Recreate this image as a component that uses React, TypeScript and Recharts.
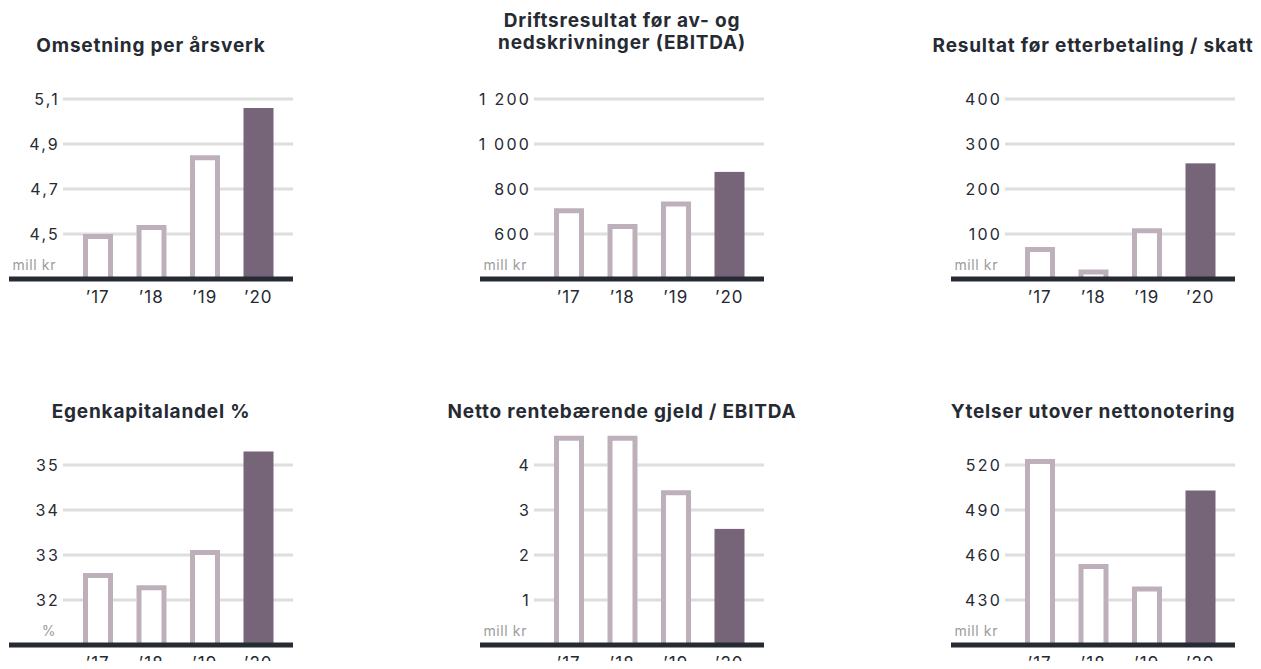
import React from "react";
import { BarChart, Bar, XAxis, YAxis, CartesianGrid, ReferenceLine } from "recharts";

// ---------- data ----------
const years = ["’17", "’18", "’19", "’20"];

const omsetningValues = [4.5, 4.54, 4.85, 5.06];
const omsetningTicks = [4.5, 4.7, 4.9, 5.1];
const omsetningTickLabels = ["4,5", "4,7", "4,9", "5,1"];

const ebitdaValues = [715, 645, 745, 876];
const ebitdaTicks = [600, 800, 1000, 1200];
const ebitdaTickLabels = ["600", "800", "1 000", "1 200"];

const resultatValues = [71, 21, 113, 257];
const resultatTicks = [100, 200, 300, 400];
const resultatTickLabels = ["100", "200", "300", "400"];

const egenkapitalValues = [32.6, 32.33, 33.11, 35.3];
const egenkapitalTicks = [32, 33, 34, 35];
const egenkapitalTickLabels = ["32", "33", "34", "35"];

const nettoValues = [4.65, 4.65, 3.44, 2.58];
const nettoTicks = [1, 2, 3, 4];
const nettoTickLabels = ["1", "2", "3", "4"];

const ytelserValues = [524, 454, 439, 503];
const ytelserTicks = [430, 460, 490, 520];
const ytelserTickLabels = ["430", "460", "490", "520"];

// ---------- style ----------
const FONT = "Inter, 'Open Sans', sans-serif";
const DARK = "#262a33";
const OUTLINE = "#bdb0bb";
const FILLED = "#766478";
const GRID = "#dedede";
const UNIT = "#9c9c9c";

const PLOT_H = 225;
const XAXIS_H = 30;
const CHART_W = 285;
const YAXIS_W = 55;

type Panel = {
  title: string[];
  values: number[];
  ticks: number[];
  tickLabels: string[];
  domain: [number, number];
  unit: string;
  left: number;
  top: number;
  titleY: number;
};

const panels: Panel[] = [
  { title: ["Omsetning per årsverk"], values: omsetningValues, ticks: omsetningTicks, tickLabels: omsetningTickLabels, domain: [4.3, 5.3], unit: "mill kr", left: 0, top: 46, titleY: 44 },
  { title: ["Driftsresultat før av- og", "nedskrivninger (EBITDA)"], values: ebitdaValues, ticks: ebitdaTicks, tickLabels: ebitdaTickLabels, domain: [400, 1400], unit: "mill kr", left: 471, top: 46, titleY: 18.7 },
  { title: ["Resultat før etterbetaling / skatt"], values: resultatValues, ticks: resultatTicks, tickLabels: resultatTickLabels, domain: [0, 500], unit: "mill kr", left: 942, top: 46, titleY: 44 },
  { title: ["Egenkapitalandel %"], values: egenkapitalValues, ticks: egenkapitalTicks, tickLabels: egenkapitalTickLabels, domain: [31, 36], unit: "%", left: 0, top: 412, titleY: 409.5 },
  { title: ["Netto rentebærende gjeld / EBITDA"], values: nettoValues, ticks: nettoTicks, tickLabels: nettoTickLabels, domain: [0, 5], unit: "mill kr", left: 471, top: 412, titleY: 409.5 },
  { title: ["Ytelser utover nettonotering"], values: ytelserValues, ticks: ytelserTicks, tickLabels: ytelserTickLabels, domain: [400, 550], unit: "mill kr", left: 942, top: 412, titleY: 409.5 },
];

const BarShape = (p: any) => {
  const { x, y, width, height, index } = p;
  if (index === years.length - 1) {
    return <rect x={x} y={y} width={width} height={height} fill={FILLED} />;
  }
  const h = 2.5;
  return (
    <g>
      <rect x={x} y={y} width={width} height={height} fill="#ffffff" />
      <path
        d={`M${x + h},${y + height} V${y + h} H${x + width - h} V${y + height}`}
        fill="none"
        stroke={OUTLINE}
        strokeWidth={5}
        strokeLinejoin="miter"
      />
    </g>
  );
};

const GridLine = (p: any) => {
  const top = p.y;
  const bottom = p.y + p.height;
  if (Math.abs(p.y1 - top) < 1 || Math.abs(p.y1 - bottom) < 1) return <g key={p.key} />;
  return <line key={p.key} x1={p.x1} y1={p.y1} x2={p.x2} y2={p.y2} stroke={GRID} strokeWidth={3} />;
};

function ChartPanel({ panel }: { panel: Panel }) {
  const data = years.map((year, i) => ({ year, value: panel.values[i] }));
  const labelFor = (v: number) => {
    const i = panel.ticks.indexOf(v);
    return i >= 0 ? panel.tickLabels[i] : String(v);
  };
  const YTick = (p: any) => (
    <text x={p.x + 2} y={p.y} dy="0.355em" textAnchor="end" fill={DARK} fontSize={16} fontFamily={FONT} letterSpacing={2.2}>
      {labelFor(p.payload.value)}
    </text>
  );
  const XTick = (p: any) => (
    <text x={p.x} y={p.y} dy="0.71em" textAnchor="middle" fill={DARK} fontSize={17} fontFamily={FONT} letterSpacing={1}>
      {p.payload.value}
    </text>
  );
  const Baseline = (p: any) => (
    <g>
      <line x1={p.x1 - YAXIS_W + 1} y1={p.y1} x2={p.x2} y2={p.y2} stroke={DARK} strokeWidth={5} />
      <text x={p.x1 - 7} y={p.y1 - 9} textAnchor="end" fill={UNIT} fontSize={14} fontFamily={FONT} letterSpacing={0.6}>
        {panel.unit}
      </text>
    </g>
  );
  return (
    <div style={{ position: "absolute", left: panel.left, top: panel.top }}>
      <BarChart width={CHART_W} height={PLOT_H + XAXIS_H} data={data} margin={{ top: 0, right: 0, bottom: 0, left: 0 }} barSize={30}>
        <CartesianGrid vertical={false} horizontal={GridLine} />
        <XAxis dataKey="year" axisLine={false} tickLine={false} tickSize={0} tickMargin={11.5} height={XAXIS_H} padding={{ left: 8, right: 8 }} tick={XTick} interval={0} />
        <YAxis type="number" domain={panel.domain} ticks={panel.ticks} allowDataOverflow axisLine={false} tickLine={false} tickSize={0} tickMargin={5} width={YAXIS_W} tick={YTick} interval={0} />
        <Bar dataKey="value" isAnimationActive={false} shape={BarShape} />
        <ReferenceLine y={panel.domain[0]} shape={Baseline} ifOverflow="visible" />
      </BarChart>
    </div>
  );
}

export default function App() {
  return (
    <div style={{ position: "relative", width: 1245, height: 653 }}>
      <style>{`body{margin:8px;overflow:hidden;background:#fff} .recharts-surface{overflow:visible}`}</style>
      {panels.map((p, i) => (
        <ChartPanel key={i} panel={p} />
      ))}
      <svg width={1245} height={653} style={{ position: "absolute", left: 0, top: 0, overflow: "visible", pointerEvents: "none" }}>
        {panels.map((p, i) =>
          p.title.map((line, j) => (
            <text key={`${i}-${j}`} x={p.left + 143} y={p.titleY + j * 22.6} textAnchor="middle" fill={DARK} fontSize={19} fontWeight={700} fontFamily={FONT} letterSpacing={0.8}>
              {line}
            </text>
          ))
        )}
      </svg>
    </div>
  );
}
